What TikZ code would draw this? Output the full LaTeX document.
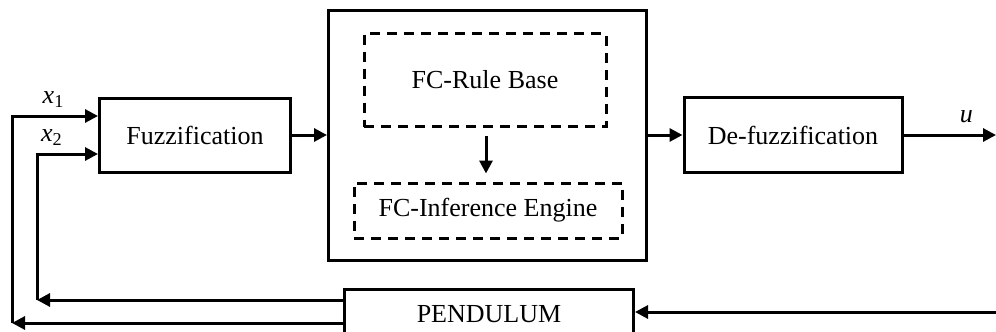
\documentclass[tikz,border=0pt]{standalone}
\usepackage{fontspec}
\setmainfont{Liberation Serif}
\usetikzlibrary{arrows.meta,positioning,calc}
\begin{document}
\begin{tikzpicture}[x=1pt,y=-1pt,
  every node/.style={font=\fontsize{26}{30}\selectfont},
  blockbox/.style={draw,line width=3pt,inner sep=0pt},
  dashbox/.style={draw,line width=3pt,dash pattern=on 10pt off 7pt,inner sep=0pt},
  link/.style={line width=3pt,-{Triangle[length=13pt,width=13pt]}},
  sig/.style={font=\fontsize{26}{30}\selectfont,inner sep=0pt}]
\useasboundingbox (0,0) rectangle (996,332);

% main blocks
\node[blockbox,minimum width=191pt,minimum height=74pt] (fuzz) at (195,135) {Fuzzification};
\node[blockbox,minimum width=318pt,minimum height=250pt] (ctrl) at (487.5,135) {};
\node[dashbox,minimum width=242pt,minimum height=93pt] (rules) at (485,80) {FC-Rule Base};
\node[dashbox,minimum width=268pt,minimum height=55pt] (engine) at (488,210.5) {FC-Inference Engine};
\node[blockbox,minimum width=218pt,minimum height=75pt] (defuzz) at (793,135) {De-fuzzification};
\node[blockbox,minimum width=289pt,minimum height=50pt] (pend) at (489,314) {PENDULUM};

% helper points
\coordinate (out) at (996,135);
\coordinate (in) at (996,312);
\coordinate (c1) at (12,323);
\coordinate (c2) at (37,300);
\coordinate (ra) at (486,128);

% forward path
\draw[link] (fuzz.east) -- (ctrl.west|-fuzz.east);
\draw[link] (ctrl.east|-defuzz.west) -- (defuzz.west);
\draw[link] (defuzz.east) -- (out) node[sig,pos=0.68,above=11pt] {\itshape u};
\draw[link] (rules.south-|ra) ++(0,8) -- ($(engine.north-|ra)+(0,-8)$);

% feedback paths
\draw[link] (in) -- (pend.east|-in);
\draw[link] (pend.west|-c2) -- (c2);
\draw[link] (pend.west|-c1) -- (c1);
\draw[link] (c1) |- ($(fuzz.west)+(0,-19)$) node[sig,pos=0.74,above=7pt] {{\itshape x}\textsubscript{1}};
\draw[link] (c2) |- ($(fuzz.west)+(0,19)$) node[sig,pos=0.62,above=7pt] {{\itshape x}\textsubscript{2}};
\end{tikzpicture}
\end{document}
